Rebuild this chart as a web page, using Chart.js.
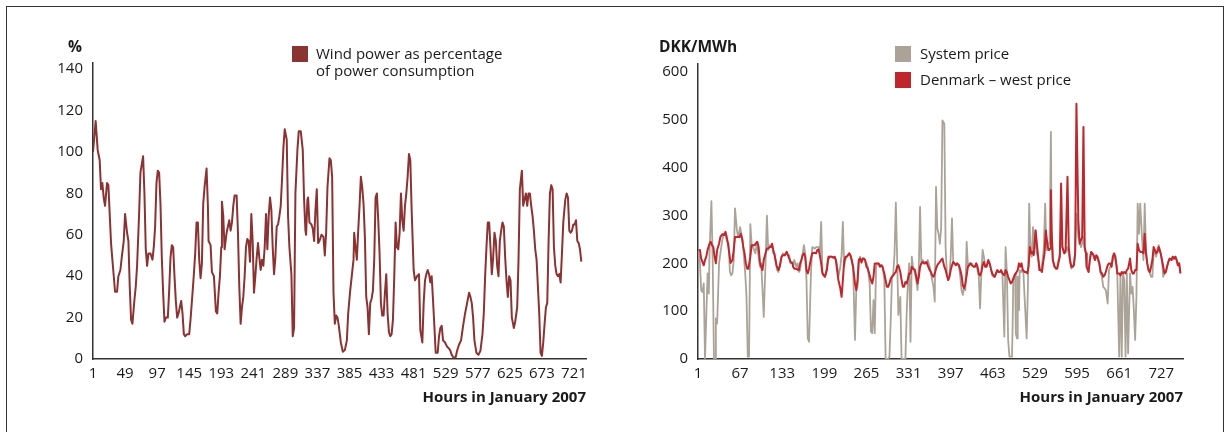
<!DOCTYPE html>
<html><head><meta charset="utf-8">
<script src="https://cdn.jsdelivr.net/npm/chart.js@4.4.1/dist/chart.umd.min.js"></script>
<style>
html,body{margin:0;padding:0;background:#fff;}
body{width:1228px;height:432px;position:relative;overflow:hidden;font-family:'Open Sans',sans-serif;color:#1a1a1a;}
#frame{position:absolute;left:6px;top:6px;width:1216px;height:440px;border:1px solid #333;border-bottom:none;}
canvas{position:absolute;top:0;}
#c1{left:0px;}
#c2{left:610px;}
.lbl{position:absolute;font-size:15px;line-height:17px;white-space:nowrap;}
.sq{position:absolute;width:16px;height:16px;}
.ttl{position:absolute;font-weight:bold;font-size:15.5px;line-height:17px;white-space:nowrap;}
</style></head>
<body>
<div id="frame"></div>
<canvas id="c1" width="610" height="432"></canvas>
<canvas id="c2" width="618" height="432"></canvas>
<div class="ttl" style="left:68px;top:38px;">%</div>
<div class="sq" style="left:292px;top:46px;background:#8b3434;"></div>
<div class="lbl" style="left:316px;top:45px;">Wind power as percentage</div>
<div class="lbl" style="left:316px;top:62px;">of power consumption</div>
<div class="ttl" style="left:659px;top:38px;">DKK/MWh</div>
<div class="sq" style="left:895px;top:46px;background:#aba397;"></div>
<div class="lbl" style="left:920px;top:45px;">System price</div>
<div class="sq" style="left:895px;top:72px;background:#c0272d;"></div>
<div class="lbl" style="left:920px;top:71px;">Denmark – west price</div>
<script>
// ---- Left chart: wind power as % of consumption ----
const windXTicks = [1,49,97,145,193,241,289,337,385,433,481,529,577,625,673,721];
const windYTicks = [0,20,40,60,80,100,120,140];
const windHours = [
1,5,8,11,13,15,17,19,22,24,
28,30,34,37,39,42,44,47,49,52,
54,56,58,60,63,65,67,70,72,76,
78,80,82,84,87,90,92,94,96,98,
100,102,104,106,108,110,113,115,117,119,
121,123,125,127,129,131,133,135,137,139,
142,145,147,150,152,154,156,158,160,162,
164,166,168,171,173,174,177,179,182,185,
187,189,191,193,194,196,198,201,203,205,
207,209,211,213,216,218,220,222,224,226,
228,230,232,234,236,238,240,242,244,246,
248,250,252,254,256,258,260,262,264,266,
268,270,272,274,276,278,280,282,284,286,
288,291,293,295,298,300,302,304,307,309,
312,315,317,319,
320,322,323,325,328,330,332,334,336,338,
340,343,346,348,350,352,355,357,359,361,
363,365,367,369,372,375,378,381,383,386,
388,391,392,394,396,398,400,402,404,406,
408,410,412,414,416,418,420,422,424,426,
428,430,432,434,436,438,440,442,444,446,
448,450,452,454,456,458,460,462,464,466,
468,470,472,474,476,478,481,483,486,489,
491,494,496,498,500,502,504,506,508,510,
512,514,517,519,521,523,525,528,531,534,
536,538,541,544,546,549,552,555,558,561,
564,566,568,570,572,575,578,581,584,586,
588,590,592,594,596,598,600,602,604,606,
608,610,612,614,616,618,620,622,624,626,
628,631,633,
636,638,640,643,645,647,649,651,653,655,
657,659,661,663,665,667,669,671,673,675,
677,679,681,683,685,687,689,691,693,695,
697,699,701,703,705,708,710,712,714,716,
718,720,722,724,726,728,730,732
];
const windValues = [
100,115,101,96,82,85,78,74,85,84,
56,48,32.5,32.5,40,43,49,57,70,61,
57,35,19,17,28.5,35,45,70,90,98,
80,53,45,51,51,48,54,64,85,91,
90,75,49,32,18,20,20,33,49,55,
54,40,28,20,22,25,28,22,12,11,
12,12,19,32,41,51,66,66,48,39,
46,75,83,92,74,57,55,42,40,23,
22,32,40,54,76,69,53,61,64,67,
62,66,74,79,79,61,35,17,25,30,
40,54,58,57,47,70,57,32,40,49,
56,49,43,48,45,54,70,53,69,78,
72,54,41,49,64,65,69,74,87,102,
111,106,69,54,41,11,15,80,101,110,
110,101,77,62,
60,77,78,66,65,63,57,72,82,56,
57,60,59,50,61,83,97,96,88,32,
17,21,20,16,8,3.5,4.3,9,22,33,
39,48,61,54,48,62,74,88,83,75,
59,30,25,12,27,29,33,48,78,80,
67,51,27,21,21,32,41,22,13,11,
12,19,40,66,54,53,61,80,67,62,
74,80,88,99,96,72,43,38,40,41,
14,8,27,38,41,43,41,37,40,28.5,
16,3,3,11,15,16,9,8,6,5,
4,2,0.5,1,4,7,9,16,22,27,
32,30,27,20,9,3,2,4,12,22,
40,54,66,66,54,41,49,61,57,45,
40,57,62,66,64,49,38,30,40,38,
20,15,18,
25,48,82,91,74,77,80,74,80,80,
74,69,62,53,48,35,22,3,1.5,8,
17,25,27,57,80,84,82,54,45,41,
40,41,37,51,66,77,80,78,62,61,
62,65,65,67,57,56,53,47
];

// ---- Right chart: prices ----
const priceXTicks = [1,67,133,199,265,331,397,463,529,595,661,727];
const priceYTicks = [0,100,200,300,400,500,600];
const dkHours = [
2,4,6,8,10,12,14,16,19,21,
23,25,27,29,31,34,36,39,42,44,
46,48,50,52,55,57,59,61,63,66,
68,70,72,74,76,78,80,83,85,87,
90,91,94,96,98,100,102,104,106,109,
111,113,115,117,119,121,124,125,127,129,
132,134,137,140,142,144,146,149,150,152,
155,157,159,161,163,165,167,169,171,173,
175,178,180,181,184,186,188,190,192,194,
196,198,200,203,205,206,208,211,213,215,
217,219,221,224,226,228,230,232,234,236,
238,240,242,244,247,249,251,253,
255,257,259,261,263,265,267,270,272,274,
276,278,280,282,284,286,288,290,293,295,
297,299,301,303,305,307,309,311,313,315,
318,320,322,324,326,328,330,332,334,336,
338,341,343,345,347,349,351,353,355,357,
359,361,364,366,368,370,372,374,376,378,
380,382,384,387,389,391,393,395,397,399,
401,403,405,407,410,412,414,416,418,420,
422,424,426,428,430,433,435,437,439,441,
443,445,447,449,451,453,456,458,460,462,
464,466,468,470,472,474,476,478,481,483,
485,487,489,491,493,495,497,499,502,504,
506,508,510,513,515,517,519,521,523,525,
527,530,532,534,536,538,540,542,544,546,
549,551,553,554,555,557,560,562,564,566,
568,570,572,575,577,580,582,584,586,588,
590,592,594,597,599,601,603,605,607,609,
610,613,615,617,619,621,623,625,627,630,
632,634,636,638,640,643,645,647,649,651,
653,655,657,658,661,663,665,667,669,671,
673,675,678,680,682,684,686,688,690,692,
694,697,699,701,703,705,707,709,711,713,
715,717,719,721,723,726,728,730,732,734,
736,738,740,743,745,747,749,751,753,755,
757
];
const dkPrice = [
228,228,210,203,196,207,214,228,241,245,
238,234,214,200,228,241,255,261,259,266,
255,241,221,201,207,228,255,255,255,255,
262,252,234,221,200,189,189,214,238,238,
238,241,245,234,203,193,186,207,217,231,
231,234,234,241,228,217,196,193,186,193,
214,217,217,224,217,210,203,200,193,189,
189,187,186,200,207,217,221,214,186,179,
189,210,221,221,222,221,228,229,217,200,
179,175,172,186,210,214,214,214,212,214,
207,186,165,148,130,165,203,214,214,217,
221,217,207,193,158,144,165,207,
210,203,210,210,207,193,189,175,165,158,
172,200,200,200,200,193,196,193,179,165,
151,151,158,168,172,175,179,182,193,196,
182,165,151,151,161,158,168,179,179,193,
189,186,172,158,172,193,200,203,200,200,
203,196,186,182,175,172,179,189,196,200,
203,207,210,193,186,175,165,172,186,196,
203,200,196,200,196,186,175,154,148,158,
175,193,196,200,196,193,193,200,193,179,
175,182,196,203,193,193,207,200,189,179,
175,172,179,186,182,182,186,179,175,186,
182,172,165,158,161,168,175,179,186,200,
193,200,186,182,182,179,193,234,221,224,
217,269,241,214,186,186,182,203,221,269,
234,228,231,353,269,207,193,189,189,203,
214,367,234,221,224,381,234,207,193,193,
196,221,534,290,241,248,255,485,234,221,
193,182,207,224,221,217,207,217,214,200,
182,179,172,175,182,196,200,200,193,214,
221,214,193,179,179,175,182,179,182,179,
186,189,210,186,179,179,186,186,241,228,
224,224,221,262,221,200,186,182,193,207,
234,228,221,224,234,221,207,193,179,182,
193,203,210,207,214,210,214,207,196,200,
179
];
const sysHours = [
2,4,6,8,10,12,13,16,18,19,
22,24,26,28,29,31,34,36,39,41,
44,46,49,51,53,55,57,59,62,64,
67,69,71,73,75,77,79,81,83,85,
87,91,93,96,98,100,102,104,107,109,
111,113,115,117,119,121,124,125,127,129,
132,134,137,140,142,144,146,149,150,152,
155,157,159,161,163,165,167,169,171,173,
175,178,180,181,184,186,188,190,192,194,
196,198,200,203,205,206,208,211,213,215,
217,219,221,224,226,228,230,232,234,236,
238,240,242,244,247,249,251,253,
255,257,259,261,263,265,267,270,272,274,
276,278,280,282,284,286,288,290,293,295,
297,299,301,303,305,307,309,311,313,315,
318,320,322,324,326,328,330,332,334,336,
338,341,343,345,347,349,351,353,355,357,
359,361,364,366,368,370,372,374,376,378,
380,382,384,387,389,391,393,395,397,399,
401,403,405,407,410,412,414,416,418,420,
422,424,426,428,430,433,435,437,439,441,
443,445,447,449,451,453,456,458,460,462,
464,466,468,470,472,474,476,478,481,483,
485,487,489,491,493,
494,495,498,499,501,502,504,505,507,509,
511,513,516,518,520,522,524,526,528,530,
532,534,537,539,541,543,545,547,549,552,
554,555,557,559,562,564,566,568,570,572,
575,577,579,582,584,586,588,590,592,594,
597,599,601,603,605,607,609,610,613,615,
617,619,621,623,625,627,630,632,634,636,
638,640,643,645,647,649,651,653,655,657,
658,661,663,665,667,669,671,673,675,678,
680,682,684,686,688,690,692,694,697,699,
701,703,705,707,709,711,713,715,717,719,
721,723,726,728,730,732,734,736,738,740,
743,745,747,749,751,753,755,757
];
const sysPrice = [
221,203,144,140,158,0,0,179,137,221,
330,207,0,0,85,74,200,221,248,262,
262,248,241,182,175,179,207,315,269,255,
276,261,248,214,179,130,5,5,282,241,
234,221,245,214,193,200,148,88,207,300,
228,238,234,238,221,221,193,186,182,193,
214,221,217,224,217,217,200,203,193,207,
193,200,182,186,207,221,238,221,165,43,
36,179,234,234,231,234,234,234,221,287,
182,175,172,193,214,214,214,214,212,214,
207,196,172,193,217,287,193,207,214,217,
221,214,203,193,40,144,151,207,
214,200,207,210,203,200,193,158,57,54,
123,54,193,200,200,196,196,196,165,0,
0,0,5,81,172,179,221,327,214,92,
130,0,0,0,0,95,165,200,36,214,
193,179,165,144,193,318,200,207,203,203,
200,207,193,179,165,151,120,360,273,262,
241,273,499,492,234,179,165,172,214,294,
200,200,196,200,193,172,144,134,151,144,
245,193,200,200,200,193,193,200,186,172,
106,179,228,214,193,193,203,200,189,175,
172,172,179,186,182,182,182,179,47,234,
182,40,5,5,5,
67,165,179,54,43,172,102,186,182,186,
179,123,43,151,325,221,214,276,221,269,
221,210,186,189,207,234,325,228,228,248,
475,290,207,193,189,193,207,221,276,234,
221,228,234,221,203,189,193,200,221,304,
255,248,234,241,255,228,221,193,182,207,
221,221,214,207,214,210,196,179,172,151,
148,144,116,186,193,193,207,217,207,193,
179,5,179,5,179,165,5,179,12,179,
137,151,102,40,130,325,262,325,248,207,
325,228,200,186,179,172,172,228,221,214,
231,238,221,207,172,179,182,193,203,210,
207,214,210,214,207,196,200,179
];

Chart.defaults.font.family = "'Open Sans', sans-serif";
Chart.defaults.color = '#1a1a1a';

function pts(hs, vs) { return hs.map((h, i) => ({x: h, y: vs[i]})); }

function axisX(max, ticks) {
  return {
    type: 'linear', min: 1, max: max, bounds: 'data',
    grid: {display: false, drawTicks: false},
    border: {display: true, color: '#333', width: 1.5},
    ticks: {autoSkip: false, maxRotation: 0, minRotation: 0, padding: 6, color: '#1a1a1a', font: {size: 15}},
    afterBuildTicks: s => { s.ticks = ticks.map(v => ({value: v})); },
    afterFit: s => { s.height = 48; },
    title: {display: true, text: 'Hours in January 2007', align: 'end', color: '#1a1a1a',
            font: {size: 15, weight: 'bold'}, padding: 0}
  };
}
function axisY(max, ticks, width) {
  return {
    type: 'linear', min: 0, max: max, bounds: 'data',
    grid: {display: false, drawTicks: false},
    border: {display: true, color: '#333', width: 1.5},
    ticks: {padding: 10, color: '#1a1a1a', font: {size: 15}},
    afterBuildTicks: s => { s.ticks = ticks.map(v => ({value: v})); },
    afterFit: s => { s.width = width; }
  };
}

new Chart(document.getElementById('c1'), {
  type: 'line',
  data: {datasets: [{
    label: 'Wind power as percentage of power consumption',
    data: pts(windHours, windValues),
    borderColor: '#8b3232', borderWidth: 2, pointRadius: 0, tension: 0,
    borderJoinStyle: 'round', fill: false
  }]},
  options: {
    responsive: false, animation: false, events: [],
    layout: {padding: {left: 0, top: 63, right: 24, bottom: 25}},
    plugins: {legend: {display: false}, tooltip: {enabled: false}},
    scales: {x: axisX(739, windXTicks), y: axisY(143, windYTicks, 93)}
  }
});

new Chart(document.getElementById('c2'), {
  type: 'line',
  data: {datasets: [
    {label: 'System price', data: pts(sysHours, sysPrice), order: 2,
     borderColor: '#aba397', borderWidth: 1.8, pointRadius: 0, tension: 0, borderJoinStyle: 'round', fill: false},
    {label: 'Denmark – west price', data: pts(dkHours, dkPrice), order: 1,
     borderColor: '#c0272d', borderWidth: 2, pointRadius: 0, tension: 0, borderJoinStyle: 'round', fill: false}
  ]},
  options: {
    responsive: false, animation: false, events: [],
    layout: {padding: {left: 0, top: 64, right: 45, bottom: 25}},
    plugins: {legend: {display: false}, tooltip: {enabled: false}},
    scales: {x: axisX(761, priceXTicks), y: axisY(617, priceYTicks, 88)}
  }
});
</script>
</body></html>
